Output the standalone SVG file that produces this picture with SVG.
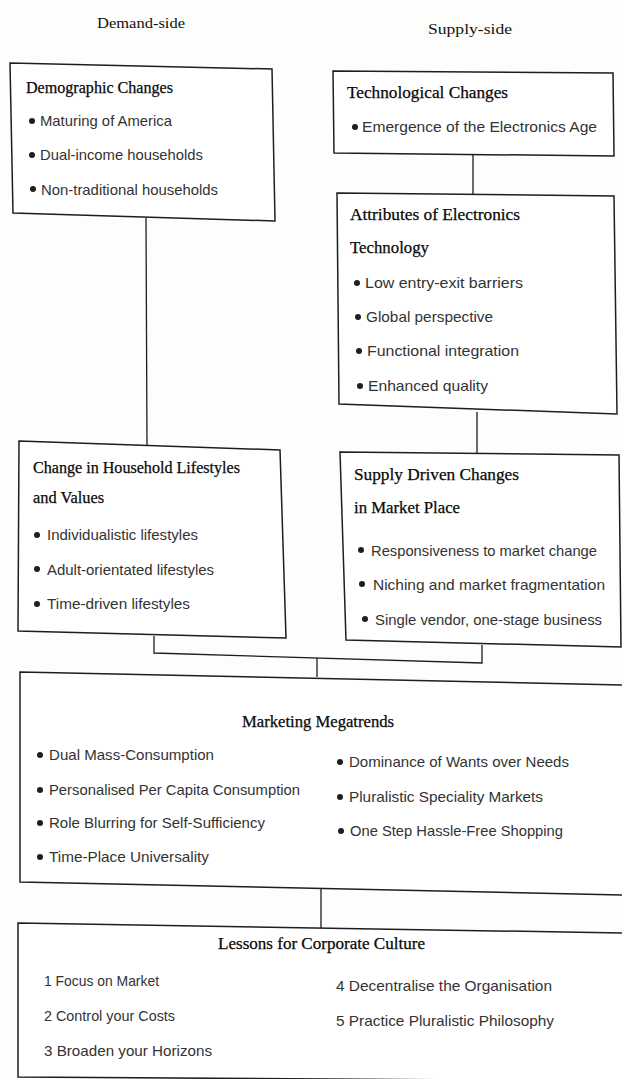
<svg xmlns="http://www.w3.org/2000/svg" width="622" height="1079" viewBox="0 0 622 1079">
<style>
.bg{fill:#fdfdfc}
.box{fill:#ffffff;stroke:#1e1e1e;stroke-width:1.5;stroke-linejoin:miter}
.c{fill:none;stroke:#1e1e1e;stroke-width:1.3}
.h{font-family:"Liberation Serif",serif;font-size:15.5px;fill:#111}
.t{font-family:"Liberation Serif",serif;font-size:16px;fill:#0a0a0a;stroke:#0a0a0a;stroke-width:0.25}
.b{font-family:"Liberation Sans",sans-serif;font-size:14.5px;fill:#333}
.dot{fill:#1e1e1e}
</style>
<rect class="bg" x="0" y="0" width="622" height="1079"/>

<g id="labels">
<text class="h" x="97" y="28" textLength="88" lengthAdjust="spacingAndGlyphs">Demand-side</text>
<text class="h" x="428" y="34" textLength="84" lengthAdjust="spacingAndGlyphs">Supply-side</text>
</g>

<g id="connectors">
<line class="c" x1="146" y1="218" x2="147" y2="445"/>
<line class="c" x1="473" y1="155" x2="473" y2="194"/>
<line class="c" x1="477" y1="412" x2="477" y2="454"/>
<polyline class="c" points="154,636 154,653 482,663 482,645"/>
<line class="c" x1="317" y1="658" x2="317" y2="677"/>
<line class="c" x1="321" y1="888" x2="321" y2="929"/>
</g>

<g id="demographic">
<polygon class="box" points="10,63 272,69 275,221 13,213"/>
<text class="t" x="26" y="93" textLength="147" lengthAdjust="spacingAndGlyphs">Demographic Changes</text>
<circle class="dot" cx="32" cy="121" r="3"/>
<text class="b" x="40" y="126" textLength="132" lengthAdjust="spacingAndGlyphs">Maturing of America</text>
<circle class="dot" cx="32" cy="155" r="3"/>
<text class="b" x="40" y="160" textLength="163" lengthAdjust="spacingAndGlyphs">Dual-income households</text>
<circle class="dot" cx="33" cy="189" r="3"/>
<text class="b" x="41" y="195" textLength="177" lengthAdjust="spacingAndGlyphs">Non-traditional households</text>
</g>

<g id="technological">
<polygon class="box" points="333,71 613,73 614,156 334,153"/>
<text class="t" x="347" y="98" textLength="161" lengthAdjust="spacingAndGlyphs">Technological Changes</text>
<circle class="dot" cx="355" cy="127" r="3"/>
<text class="b" x="362" y="132" textLength="235" lengthAdjust="spacingAndGlyphs">Emergence of the Electronics Age</text>
</g>

<g id="attributes">
<polygon class="box" points="337,193 614,196 617,414 339,404"/>
<text class="t" x="350" y="220" textLength="170" lengthAdjust="spacingAndGlyphs">Attributes of Electronics</text>
<text class="t" x="350" y="253" textLength="79" lengthAdjust="spacingAndGlyphs">Technology</text>
<circle class="dot" cx="357" cy="283" r="3"/>
<text class="b" x="365" y="288" textLength="158" lengthAdjust="spacingAndGlyphs">Low entry-exit barriers</text>
<circle class="dot" cx="358" cy="317" r="3"/>
<text class="b" x="366" y="322" textLength="127" lengthAdjust="spacingAndGlyphs">Global perspective</text>
<circle class="dot" cx="359" cy="351" r="3"/>
<text class="b" x="367" y="356" textLength="152" lengthAdjust="spacingAndGlyphs">Functional integration</text>
<circle class="dot" cx="360" cy="386" r="3"/>
<text class="b" x="368" y="391" textLength="120" lengthAdjust="spacingAndGlyphs">Enhanced quality</text>
</g>

<g id="household">
<polygon class="box" points="19,441 280,450 286,638 18,631"/>
<text class="t" x="33" y="473" textLength="207" lengthAdjust="spacingAndGlyphs">Change in Household Lifestyles</text>
<text class="t" x="33" y="503" textLength="71" lengthAdjust="spacingAndGlyphs">and Values</text>
<circle class="dot" cx="37" cy="535" r="3"/>
<text class="b" x="47" y="540" textLength="151" lengthAdjust="spacingAndGlyphs">Individualistic lifestyles</text>
<circle class="dot" cx="37" cy="569" r="3"/>
<text class="b" x="47" y="575" textLength="167" lengthAdjust="spacingAndGlyphs">Adult-orientated lifestyles</text>
<circle class="dot" cx="37" cy="604" r="3"/>
<text class="b" x="47" y="609" textLength="143" lengthAdjust="spacingAndGlyphs">Time-driven lifestyles</text>
</g>

<g id="supply-driven">
<polygon class="box" points="340,452 619,455 621,647 346,640"/>
<text class="t" x="354" y="480" textLength="165" lengthAdjust="spacingAndGlyphs">Supply Driven Changes</text>
<text class="t" x="354" y="513" textLength="106" lengthAdjust="spacingAndGlyphs">in Market Place</text>
<circle class="dot" cx="361" cy="550" r="3"/>
<text class="b" x="371" y="556" textLength="226" lengthAdjust="spacingAndGlyphs">Responsiveness to market change</text>
<circle class="dot" cx="362" cy="584" r="3"/>
<text class="b" x="373" y="590" textLength="232" lengthAdjust="spacingAndGlyphs">Niching and market fragmentation</text>
<circle class="dot" cx="365" cy="619" r="3"/>
<text class="b" x="375" y="625" textLength="227" lengthAdjust="spacingAndGlyphs">Single vendor, one-stage business</text>
</g>

<g id="megatrends">
<polygon class="box" points="20,672 623,685 623,895 20,882"/>
<text class="t" x="242" y="727" textLength="152" lengthAdjust="spacingAndGlyphs">Marketing Megatrends</text>
<circle class="dot" cx="40" cy="755" r="3"/>
<text class="b" x="49" y="760" textLength="165" lengthAdjust="spacingAndGlyphs">Dual Mass-Consumption</text>
<circle class="dot" cx="40" cy="790" r="3"/>
<text class="b" x="49" y="795" textLength="251" lengthAdjust="spacingAndGlyphs">Personalised Per Capita Consumption</text>
<circle class="dot" cx="40" cy="823" r="3"/>
<text class="b" x="49" y="828" textLength="216" lengthAdjust="spacingAndGlyphs">Role Blurring for Self-Sufficiency</text>
<circle class="dot" cx="40" cy="857" r="3"/>
<text class="b" x="49" y="862" textLength="160" lengthAdjust="spacingAndGlyphs">Time-Place Universality</text>
<circle class="dot" cx="340" cy="762" r="3"/>
<text class="b" x="349" y="767" textLength="220" lengthAdjust="spacingAndGlyphs">Dominance of Wants over Needs</text>
<circle class="dot" cx="340" cy="797" r="3"/>
<text class="b" x="349" y="802" textLength="194" lengthAdjust="spacingAndGlyphs">Pluralistic Speciality Markets</text>
<circle class="dot" cx="341" cy="831" r="3"/>
<text class="b" x="350" y="836" textLength="213" lengthAdjust="spacingAndGlyphs">One Step Hassle-Free Shopping</text>
</g>

<g id="lessons">
<polygon class="box" points="18,923 623,933 623,1081 18,1077"/>
<text class="t" x="218" y="949" textLength="207" lengthAdjust="spacingAndGlyphs">Lessons for Corporate Culture</text>
<text class="b" x="44" y="986" textLength="115" lengthAdjust="spacingAndGlyphs">1 Focus on Market</text>
<text class="b" x="44" y="1021" textLength="131" lengthAdjust="spacingAndGlyphs">2 Control your Costs</text>
<text class="b" x="44" y="1056" textLength="168" lengthAdjust="spacingAndGlyphs">3 Broaden your Horizons</text>
<text class="b" x="336" y="991" textLength="216" lengthAdjust="spacingAndGlyphs">4 Decentralise the Organisation</text>
<text class="b" x="336" y="1026" textLength="218" lengthAdjust="spacingAndGlyphs">5 Practice Pluralistic Philosophy</text>
</g>
</svg>
